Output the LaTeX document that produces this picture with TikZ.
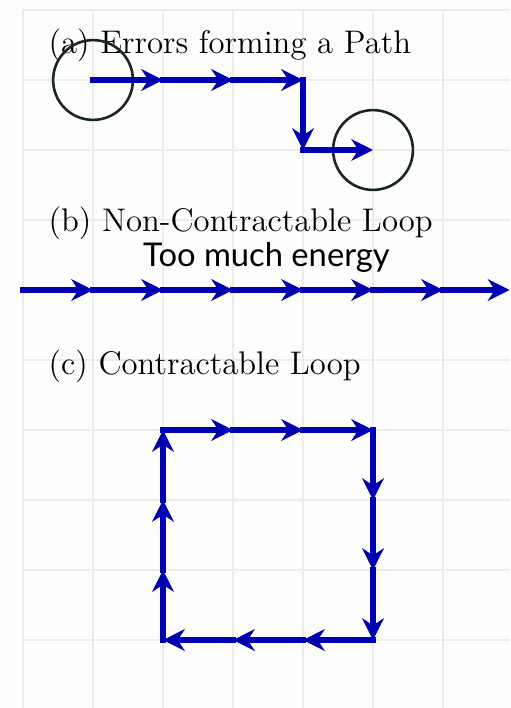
\documentclass[tikz,border=0pt]{standalone}
\usepackage{fontspec}
\newfontfamily\energyfont{Lato}
\usetikzlibrary{arrows.meta}
\definecolor{pathblue}{RGB}{0,0,176}
\definecolor{gridgray}{RGB}{236,236,236}
\definecolor{ringcol}{RGB}{25,38,38}
\definecolor{paper}{RGB}{253,253,251}
\tikzset{
  gridline/.style={draw=gridgray, line width=0.45pt},
  errarrow/.style={draw=pathblue, line width=2.3pt, line cap=rect,
    -{Stealth[length=0.31cm, width=0.31cm, inset=0.1cm]}},
  ring/.style={circle, draw=ringcol, line width=1.05pt, minimum size=1.14cm, inner sep=0pt},
  caption/.style={anchor=base west, inner sep=0pt, font=\fontsize{13.3}{16}\selectfont},
  note/.style={anchor=base west, inner sep=0pt, font=\energyfont\fontsize{13.3}{16}\selectfont}
}
\begin{document}
\begin{tikzpicture}[x=1cm,y=1cm]
\useasboundingbox (-0.3286,0.1429) rectangle (6.957,-9.971);
\fill[paper] (-0.3286,0.1429) rectangle (6.957,-9.971);
\begin{scope}
\clip (-0.3286,0.1429) rectangle (6.957,-9.971);
\draw[gridline] (0,0) grid (7.5,-10.5);
\end{scope}
% captions
\node[caption] (capa) at (0.36,-0.62) {(a) Errors forming a Path};
\node[caption] (capb) at (0.36,-3.16) {(b) Non-Contractable Loop};
\node[caption] (capc) at (0.36,-5.2) {(c) Contractable Loop};
\node[note] (energy) at (1.71,-3.67) {Too much energy};
% (a) path
\coordinate (a0) at (1,-1);
\coordinate (a1) at (2,-1);
\coordinate (a2) at (3,-1);
\coordinate (a3) at (4,-1);
\coordinate (a4) at (4,-2);
\coordinate (a5) at (5,-2);
\node[ring] (r1) at (a0) {};
\node[ring] (r2) at (a5) {};
\draw[errarrow] (a0) -- (a1);
\draw[errarrow] (a1) -- (a2);
\draw[errarrow] (a2) -- (a3);
\draw[errarrow] (a3) -- (a4);
\draw[errarrow] (a4) -- (a5);
% (b) line
\foreach \i in {0,...,6} {\coordinate (b\i) at (\i,-4);}
\coordinate (b7) at (6.95,-4);
\foreach \i [evaluate=\i as \j using int(\i+1)] in {0,...,6} {\draw[errarrow] (b\i) -- (b\j);}
% (c) square
\coordinate (c0) at (2,-6);
\coordinate (c1) at (3,-6);
\coordinate (c2) at (4,-6);
\coordinate (c3) at (5,-6);
\coordinate (c4) at (5,-7);
\coordinate (c5) at (5,-8);
\coordinate (c6) at (5,-9);
\coordinate (c7) at (4,-9);
\coordinate (c8) at (3,-9);
\coordinate (c9) at (2,-9);
\coordinate (c10) at (2,-8);
\coordinate (c11) at (2,-7);
\draw[errarrow] (c0) -- (c1);
\draw[errarrow] (c1) -- (c2);
\draw[errarrow] (c2) -- (c3);
\draw[errarrow] (c3) -- (c4);
\draw[errarrow] (c4) -- (c5);
\draw[errarrow] (c5) -- (c6);
\draw[errarrow] (c6) -- (c7);
\draw[errarrow] (c7) -- (c8);
\draw[errarrow] (c8) -- (c9);
\draw[errarrow] (c9) -- (c10);
\draw[errarrow] (c10) -- (c11);
\draw[errarrow] (c11) -- (c0);
\end{tikzpicture}
\end{document}
